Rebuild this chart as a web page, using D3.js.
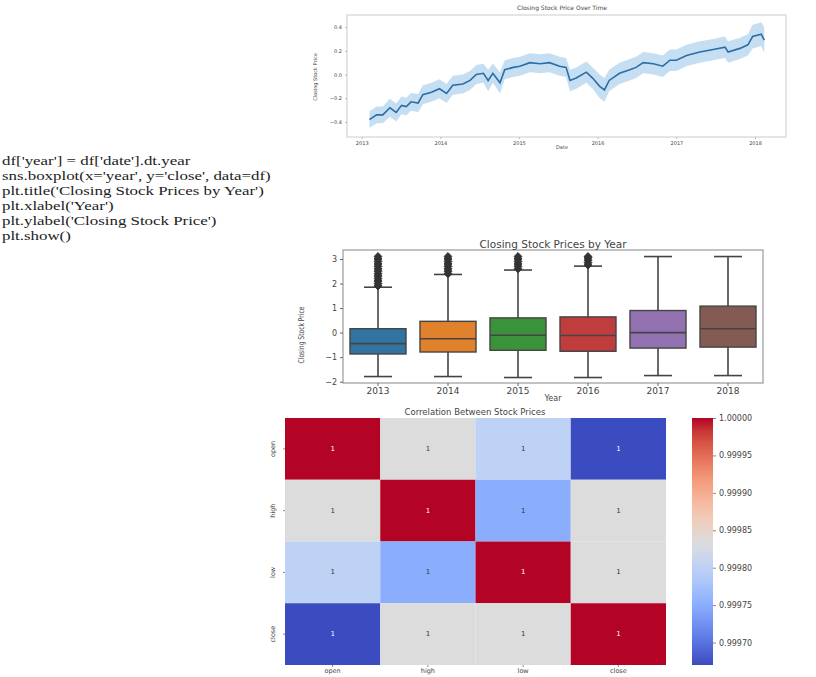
<!DOCTYPE html>
<html>
<head>
<meta charset="utf-8">
<script src="https://cdn.jsdelivr.net/npm/d3@7"></script>
<style>
  body { margin: 0; background: #fff; }
  svg { display: block; }
  .code { font-family: 'Liberation Serif', serif; font-size: 13.5px; fill: #222; }
  .small { font-family: 'DejaVu Sans', sans-serif; fill: #444; }
</style>
</head>
<body>
<div id="page"></div>
<script>
// ---- line chart: mean closing price over time
const lineDates = ['2013-02-06', '2013-03-11', '2013-04-09', '2013-05-12', '2013-06-10', '2013-07-05',
  '2013-07-27', '2013-08-18', '2013-09-20', '2013-10-12', '2013-11-21', '2013-12-28', '2014-01-30',
  '2014-02-28', '2014-04-16', '2014-05-19', '2014-06-17', '2014-07-20', '2014-08-11', '2014-09-02',
  '2014-10-05', '2014-10-27', '2014-12-06', '2015-01-05', '2015-02-21', '2015-04-09', '2015-05-23',
  '2015-07-09', '2015-08-08', '2015-08-26', '2015-09-24', '2015-11-10', '2015-12-09', '2016-01-11',
  '2016-02-02', '2016-02-24', '2016-04-12', '2016-05-30', '2016-06-28', '2016-07-31', '2016-09-16',
  '2016-10-30', '2016-12-02', '2017-01-01', '2017-02-17', '2017-04-20', '2017-06-21', '2017-08-15',
  '2017-08-29', '2017-10-23', '2017-11-29', '2017-12-21', '2018-01-30', '2018-02-13'];
const lineValues = [-0.38, -0.34, -0.34, -0.28, -0.32, -0.26, -0.27, -0.23, -0.24, -0.17, -0.15, -0.12,
  -0.16, -0.09, -0.08, -0.05, 0.0, 0.01, -0.05, 0.01, -0.07, 0.04, 0.06, 0.07, 0.10, 0.09, 0.10, 0.07,
  0.06, -0.05, -0.03, 0.02, -0.03, -0.10, -0.13, -0.05, 0.01, 0.04, 0.06, 0.10, 0.09, 0.07, 0.12, 0.12,
  0.16, 0.19, 0.21, 0.23, 0.19, 0.22, 0.25, 0.32, 0.34, 0.29];
const lineCiHalf = [0.07, 0.07, 0.07, 0.075, 0.075, 0.075, 0.075, 0.075, 0.075, 0.08, 0.08, 0.08, 0.08,
  0.08, 0.08, 0.08, 0.08, 0.08, 0.09, 0.08, 0.09, 0.08, 0.08, 0.08, 0.08, 0.08, 0.08, 0.08, 0.08, 0.09,
  0.09, 0.09, 0.09, 0.1, 0.1, 0.09, 0.09, 0.09, 0.09, 0.09, 0.09, 0.09, 0.09, 0.09, 0.09, 0.09, 0.09,
  0.09, 0.09, 0.09, 0.09, 0.1, 0.1, 0.11];
const lineYTicks = [-0.4, -0.2, 0.0, 0.2, 0.4];
const lineXTicks = ['2013', '2014', '2015', '2016', '2017', '2018'];

// ---- code cell text
const codeLines = [
  "df['year'] = df['date'].dt.year",
  "sns.boxplot(x='year', y='close', data=df)",
  "plt.title('Closing Stock Prices by Year')",
  "plt.xlabel('Year')",
  "plt.ylabel('Closing Stock Price')",
  "plt.show()"
];

// ---- boxplot by year
const years = ['2013', '2014', '2015', '2016', '2017', '2018'];
const boxQ1 = [-0.87, -0.79, -0.72, -0.76, -0.63, -0.59];
const boxMedian = [-0.45, -0.25, -0.11, -0.12, 0.0, 0.16];
const boxQ3 = [0.16, 0.46, 0.6, 0.64, 0.9, 1.08];
const boxLow = [-1.79, -1.79, -1.83, -1.83, -1.75, -1.75];
const boxHigh = [1.85, 2.37, 2.55, 2.71, 3.1, 3.1];
const boxOutliers = [
  [1.9, 2.0, 2.1, 2.2, 2.3, 2.4, 2.5, 2.6, 2.7, 2.8, 2.9, 3.0, 3.1],
  [2.4, 2.5, 2.6, 2.7, 2.8, 2.9, 3.0, 3.1],
  [2.6, 2.7, 2.8, 2.9, 3.0, 3.1],
  [2.75, 2.85, 2.95, 3.05, 3.1],
  [],
  []
];
const boxColors = ['#3274a1', '#e1812c', '#3a923a', '#c03d3e', '#9372b2', '#845b53'];
const boxYTicks = [-2, -1, 0, 1, 2, 3];

// ---- correlation heatmap
const priceCols = ['open', 'high', 'low', 'close'];
const corrMatrix = [
  [1.0, 0.999834, 0.9998, 0.99967],
  [0.999834, 1.0, 0.99975, 0.999834],
  [0.9998, 0.99975, 1.0, 0.999834],
  [0.99967, 0.999834, 0.999834, 1.0]
];
const cbarTicks = [0.9997, 0.99975, 0.9998, 0.99985, 0.9999, 0.99995, 1.0];

const svg = d3.select('#page').append('svg').attr('width', 816).attr('height', 677);

// ===================== line chart =====================
const line = { left: 347, right: 786, top: 15, bottom: 137 };
const parse = d3.timeParse('%Y-%m-%d');
const lineData = lineDates.map((d, i) => ({ date: parse(d), v: lineValues[i], ci: lineCiHalf[i] }));

const xTime = d3.scaleTime()
  .domain([new Date(2013, 0, 1), new Date(2018, 0, 1)])
  .range([361.7, 755]);
const yLine = d3.scaleLinear().domain([-0.4, 0.4]).range([122, 27]);

svg.append('rect')
  .attr('x', line.left).attr('y', line.top)
  .attr('width', line.right - line.left).attr('height', line.bottom - line.top)
  .attr('fill', 'none').attr('stroke', '#d4d4d4').attr('stroke-width', 1.2);

svg.append('path')
  .datum(lineData)
  .attr('fill', '#b3d3ee').attr('fill-opacity', 0.75)
  .attr('d', d3.area().x((d) => xTime(d.date)).y0((d) => yLine(d.v - d.ci)).y1((d) => yLine(d.v + d.ci)));

svg.append('path')
  .datum(lineData)
  .attr('fill', 'none').attr('stroke', '#2b6ea6').attr('stroke-width', 1.6)
  .attr('d', d3.line().x((d) => xTime(d.date)).y((d) => yLine(d.v)));

const lineX = svg.append('g')
  .attr('transform', `translate(0, ${line.bottom})`)
  .call(d3.axisBottom(xTime)
    .tickValues(lineXTicks.map((y) => new Date(+y, 0, 1)))
    .tickFormat(d3.timeFormat('%Y')).tickSize(2));
lineX.select('.domain').remove();
lineX.selectAll('line').attr('stroke', '#bbb');
lineX.selectAll('text').attr('class', 'small').attr('font-size', 5).attr('dy', '0.5em');

const lineY = svg.append('g')
  .attr('transform', `translate(${line.left}, 0)`)
  .call(d3.axisLeft(yLine).tickValues(lineYTicks).tickFormat(d3.format('.1f')).tickSize(2));
lineY.select('.domain').remove();
lineY.selectAll('line').attr('stroke', '#bbb');
lineY.selectAll('text').attr('class', 'small').attr('font-size', 5);

svg.append('text').attr('class', 'small')
  .attr('x', 562).attr('y', 10).attr('text-anchor', 'middle').attr('font-size', 6)
  .text('Closing Stock Price Over Time');
svg.append('text').attr('class', 'small')
  .attr('x', 562).attr('y', 149).attr('text-anchor', 'middle').attr('font-size', 5)
  .text('Date');
svg.append('text').attr('class', 'small')
  .attr('transform', 'translate(317, 77) rotate(-90)')
  .attr('text-anchor', 'middle').attr('font-size', 5)
  .text('Closing Stock Price');

// ===================== code text =====================
svg.append('g')
  .attr('transform', 'translate(2, 0) scale(1.25, 1)')
  .selectAll('text')
  .data(codeLines)
  .join('text')
  .attr('class', 'code')
  .attr('x', 0)
  .attr('y', (d, i) => 165 + i * 15)
  .text((d) => d);

// ===================== boxplot =====================
const box = { left: 343, right: 763, top: 250, bottom: 383 };
const xBand = d3.scaleBand().domain(years).range([box.left, box.right]);
const yBox = d3.scaleLinear().domain([-2, 3]).range([381.7, 259]);
const bw = xBand.bandwidth() * 0.8;

svg.append('rect')
  .attr('x', box.left).attr('y', box.top)
  .attr('width', box.right - box.left).attr('height', box.bottom - box.top)
  .attr('fill', 'none').attr('stroke', '#999').attr('stroke-width', 1.2);

const boxData = years.map((y, i) => ({
  year: y, q1: boxQ1[i], med: boxMedian[i], q3: boxQ3[i],
  lo: boxLow[i], hi: boxHigh[i], out: boxOutliers[i], color: boxColors[i]
}));

const boxes = svg.append('g').selectAll('g').data(boxData).join('g')
  .attr('transform', (d) => `translate(${xBand(d.year) + xBand.bandwidth() / 2}, 0)`);

const wcol = '#444';
boxes.append('line').attr('y1', (d) => yBox(d.hi)).attr('y2', (d) => yBox(d.q3))
  .attr('stroke', wcol).attr('stroke-width', 1.6);
boxes.append('line').attr('y1', (d) => yBox(d.q1)).attr('y2', (d) => yBox(d.lo))
  .attr('stroke', wcol).attr('stroke-width', 1.6);
boxes.append('line').attr('x1', -bw / 4).attr('x2', bw / 4)
  .attr('y1', (d) => yBox(d.hi)).attr('y2', (d) => yBox(d.hi))
  .attr('stroke', wcol).attr('stroke-width', 1.6);
boxes.append('line').attr('x1', -bw / 4).attr('x2', bw / 4)
  .attr('y1', (d) => yBox(d.lo)).attr('y2', (d) => yBox(d.lo))
  .attr('stroke', wcol).attr('stroke-width', 1.6);
boxes.append('rect')
  .attr('x', -bw / 2).attr('width', bw)
  .attr('y', (d) => yBox(d.q3)).attr('height', (d) => yBox(d.q1) - yBox(d.q3))
  .attr('fill', (d) => d.color).attr('stroke', wcol).attr('stroke-width', 1.4);
boxes.append('line').attr('x1', -bw / 2).attr('x2', bw / 2)
  .attr('y1', (d) => yBox(d.med)).attr('y2', (d) => yBox(d.med))
  .attr('stroke', wcol).attr('stroke-width', 1.6);
boxes.each(function (d) {
  d3.select(this).selectAll('path.flier').data(d.out).join('path')
    .attr('class', 'flier')
    .attr('transform', (v) => `translate(0, ${yBox(v)})`)
    .attr('d', d3.symbol(d3.symbolDiamond2, 40))
    .attr('fill', '#333').attr('stroke', '#333');
});

const boxX = svg.append('g')
  .attr('transform', `translate(0, ${box.bottom})`)
  .call(d3.axisBottom(xBand).tickSize(3));
boxX.select('.domain').remove();
boxX.selectAll('line').attr('stroke', '#666');
boxX.selectAll('text').attr('class', 'small').attr('font-size', 9).attr('dy', '0.55em');

const boxY = svg.append('g')
  .attr('transform', `translate(${box.left}, 0)`)
  .call(d3.axisLeft(yBox).tickValues(boxYTicks).tickFormat((d) => d3.format('d')(d).replace('-', '\u2212')).tickSize(3));
boxY.select('.domain').remove();
boxY.selectAll('line').attr('stroke', '#666');
boxY.selectAll('text').attr('class', 'small').attr('font-size', 8);

svg.append('text').attr('class', 'small')
  .attr('x', 553).attr('y', 248).attr('text-anchor', 'middle').attr('font-size', 10.5)
  .text('Closing Stock Prices by Year');
svg.append('text').attr('class', 'small')
  .attr('x', 553).attr('y', 401).attr('text-anchor', 'middle').attr('font-size', 8)
  .text('Year');
svg.append('text').attr('class', 'small')
  .attr('transform', 'translate(304, 335) rotate(-90) scale(0.75, 1)')
  .attr('text-anchor', 'middle').attr('font-size', 8)
  .text('Closing Stock Price');

// ===================== heatmap =====================
const heat = { left: 285, right: 666, top: 418, bottom: 665 };
const xHeat = d3.scaleBand().domain(priceCols).range([heat.left, heat.right]);
const yHeat = d3.scaleBand().domain(priceCols).range([heat.top, heat.bottom]);
const vmin = 0.99967;
const vmax = 1.0;
const coolwarmStops = ['#3b4cc0', '#6282ea', '#8db0fe', '#b8d0f9', '#dddcdc', '#f5c4ac', '#f49a7b', '#de604d', '#b40426'];
const color = d3.scaleLinear()
  .domain(coolwarmStops.map((c, i) => vmin + (vmax - vmin) * i / (coolwarmStops.length - 1)))
  .range(coolwarmStops)
  .interpolate(d3.interpolateLab)
  .clamp(true);

const cells = [];
corrMatrix.forEach((row, r) => row.forEach((v, c) => cells.push({ r: priceCols[r], c: priceCols[c], v })));

svg.append('g').selectAll('rect').data(cells).join('rect')
  .attr('x', (d) => xHeat(d.c)).attr('y', (d) => yHeat(d.r))
  .attr('width', xHeat.bandwidth()).attr('height', yHeat.bandwidth())
  .attr('fill', (d) => color(d.v));

svg.append('g').selectAll('text').data(cells).join('text')
  .attr('class', 'small')
  .attr('x', (d) => xHeat(d.c) + xHeat.bandwidth() / 2)
  .attr('y', (d) => yHeat(d.r) + yHeat.bandwidth() / 2)
  .attr('text-anchor', 'middle').attr('dominant-baseline', 'central')
  .attr('font-size', 7)
  .style('fill', (d) => (d.v > 0.99995 || d.v < 0.99972 ? '#fff' : '#333'))
  .text((d) => d3.format('.0f')(d.v));

const heatX = svg.append('g')
  .attr('transform', `translate(0, ${heat.bottom})`)
  .call(d3.axisBottom(xHeat).tickSize(2));
heatX.select('.domain').remove();
heatX.selectAll('line').attr('stroke', '#888');
heatX.selectAll('text').attr('class', 'small').attr('font-size', 6.5).attr('dy', '0.4em');

const heatY = svg.append('g')
  .attr('transform', `translate(${heat.left}, 0)`)
  .call(d3.axisLeft(yHeat).tickSize(2));
heatY.select('.domain').remove();
heatY.selectAll('line').attr('stroke', '#888');
heatY.selectAll('text').attr('class', 'small').attr('font-size', 6.5)
  .attr('text-anchor', 'middle').attr('x', -10).attr('dy', '0')
  .attr('transform', 'rotate(-90, -10, 0)');

svg.append('text').attr('class', 'small')
  .attr('x', 475).attr('y', 415).attr('text-anchor', 'middle').attr('font-size', 8.5)
  .text('Correlation Between Stock Prices');

// colorbar
const cbar = { left: 692, width: 21 };
const yCbar = d3.scaleLinear().domain([vmin, vmax]).range([heat.bottom, heat.top]);
const grad = svg.append('defs').append('linearGradient')
  .attr('id', 'cw').attr('x1', 0).attr('y1', 1).attr('x2', 0).attr('y2', 0);
grad.selectAll('stop').data(d3.range(0, 1.0001, 0.05)).join('stop')
  .attr('offset', (t) => t)
  .attr('stop-color', (t) => color(vmin + (vmax - vmin) * t));
svg.append('rect')
  .attr('x', cbar.left).attr('y', heat.top)
  .attr('width', cbar.width).attr('height', heat.bottom - heat.top)
  .attr('fill', 'url(#cw)');
const cbAxis = svg.append('g')
  .attr('transform', `translate(${cbar.left + cbar.width}, 0)`)
  .call(d3.axisRight(yCbar).tickValues(cbarTicks).tickFormat(d3.format('.5f')).tickSize(3));
cbAxis.select('.domain').remove();
cbAxis.selectAll('line').attr('stroke', '#888');
cbAxis.selectAll('text').attr('class', 'small').attr('font-size', 8);
</script>
</body>
</html>
